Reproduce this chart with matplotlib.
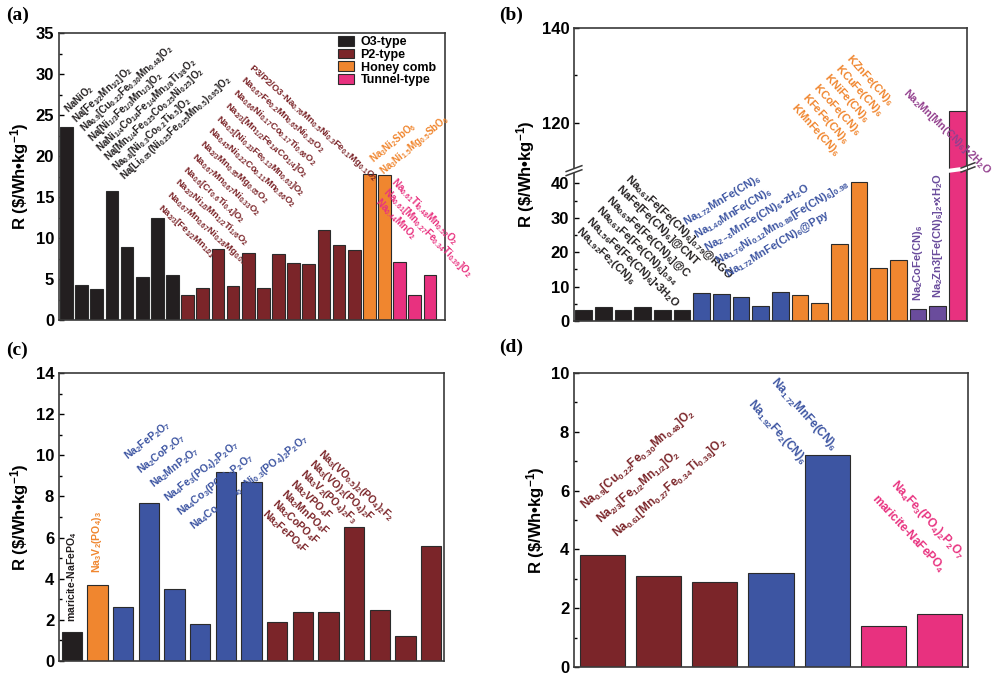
import numpy as np
import matplotlib
matplotlib.use("Agg")
import matplotlib.pyplot as plt
from matplotlib.ticker import MultipleLocator, FixedLocator
from matplotlib.patches import Patch, Polygon

plt.rcParams['font.family'] = ['Liberation Sans', 'DejaVu Sans']
plt.rcParams['font.weight'] = 'bold'
plt.rcParams['mathtext.fontset'] = 'custom'
plt.rcParams['mathtext.rm'] = 'Liberation Sans:bold'
plt.rcParams['mathtext.it'] = 'Liberation Sans:bold'
plt.rcParams['mathtext.bf'] = 'Liberation Sans:bold'
plt.rcParams['mathtext.default'] = 'rm'

# ── colours ──
BLACK = '#231f20'; DKRED = '#7b2529'; ORANGE = '#f0862f'; PINK = '#e8317f'
BLUE = '#3d55a2'; PURPLE = '#6a4c9c'; MAGENTA = '#93408e'; EDGE = '#2b2b2b'

# ── (a) layered oxides ──
a_o3 = [23.5, 4.3, 3.8, 15.8, 8.9, 5.3, 12.5, 5.5]
a_p2 = [3.1, 3.9, 8.7, 4.1, 8.2, 3.9, 8.1, 7.0, 6.8, 11.0, 9.2, 8.5]
a_honey = [17.8, 17.7]
a_tunnel = [7.1, 3.0, 5.5]
a_legend = ['O3-type', 'P2-type', 'Honey comb', 'Tunnel-type']
a_o3_lab = ['NaNiO$_2$',
            'Na[Fe$_{1/2}$Mn$_{1/2}$]O$_2$',
            'Na$_{0.9}$[Cu$_{0.22}$Fe$_{0.30}$Mn$_{0.48}$]O$_2$',
            'Na[Ni$_{1/3}$Fe$_{1/3}$Mn$_{1/3}$]O$_2$',
            'NaNi$_{1/4}$Co$_{1/4}$Fe$_{1/4}$Mn$_{1/8}$Ti$_{1/8}$O$_2$',
            'Na[Mn$_{1/4}$Fe$_{0.25}$Co$_{0.25}$Ni$_{0.25}$]O$_2$',
            'Na$_{0.8}$[Ni$_{0.3}$Co$_{0.2}$Ti$_{0.5}$]O$_2$',
            'Na[Li$_{0.05}$(Ni$_{0.25}$Fe$_{0.25}$Mn$_{0.5}$)$_{0.95}$]O$_2$']
a_p2_lab = ['P3/P2/O3-Na$_{0.76}$Mn$_{0.5}$Ni$_{0.3}$Fe$_{0.1}$Mg$_{0.1}$O$_2$',
            'Na$_{0.67}$Fe$_{0.2}$Mn$_{0.65}$Ni$_{0.15}$O$_2$',
            'Na$_{0.66}$Ni$_{0.17}$Co$_{0.17}$Ti$_{0.66}$O$_2$',
            'Na$_{2/3}$[Mn$_{1/2}$Fe$_{1/4}$Co$_{1/4}$]O$_2$',
            'Na$_{0.5}$[Ni$_{0.23}$Fe$_{0.13}$Mn$_{0.63}$]O$_2$',
            'Na$_{0.45}$Ni$_{0.22}$Co$_{0.11}$Mn$_{0.66}$O$_2$',
            'Na$_{2/3}$Mn$_{0.95}$Mg$_{0.05}$O$_2$',
            'Na$_{0.67}$Mn$_{0.67}$Ni$_{0.33}$O$_2$',
            'Na$_{0.6}$[Cr$_{0.6}$Ti$_{0.4}$]O$_2$',
            'Na$_{2/3}$Ni$_{1/3}$Mn$_{1/2}$Ti$_{1/6}$O$_2$',
            'Na$_{0.67}$Mn$_{0.67}$Ni$_{0.28}$Mg$_{0.05}$O$_2$',
            'Na$_{2/3}$[Fe$_{1/2}$Mn$_{1/2}$]O$_2$']
a_honey_lab = ['Na$_3$Ni$_2$SbO$_6$', 'Na$_3$Ni$_{1.5}$Mg$_{0.5}$SbO$_6$']
a_tunnel_lab = ['Na$_{0.61}$Ti$_{0.48}$Mn$_{0.52}$O$_2$',
                'Na$_{0.61}$[Mn$_{0.27}$Fe$_{0.34}$Ti$_{0.39}$]O$_2$',
                'Na$_{0.44}$MnO$_2$']

# ── (b) Prussian blue analogues ──
b_fefe = [3.1, 4.1, 3.1, 4.1, 3.1, 3.1]
b_mnfe = [8.1, 7.8, 6.9, 4.3, 8.3]
b_kpba = [7.5, 5.3, 22.4, 40.3, 15.3, 17.7]
b_other = [3.6, 4.5]
b_mnmn = [122.5]
b_yticks = [0, 10, 20, 30, 40, 120, 140]
b_fefe_lab = ['Na$_{0.61}$Fe[Fe(CN)$_6$]$_{0.79}$@RGO', 'NaFe[Fe(CN)$_6$]@CNT',
              'Na$_{0.65}$Fe[Fe(CN)$_6$]@C', 'Na$_{0.61}$Fe[Fe(CN)$_6$]$_{0.94}$',
              'Na$_{1.56}$Fe[Fe(CN)$_6$]•3H$_2$O', 'Na$_{1.92}$Fe$_2$(CN)$_6$']
b_mnfe_lab = ['Na$_{1.72}$MnFe(CN)$_6$', 'Na$_{1.40}$MnFe(CN)$_6$',
              'Na$_{2-δ}$MnFe(CN)$_6$•zH$_2$O',
              'Na$_{1.76}$Ni$_{0.12}$Mn$_{0.88}$[Fe(CN)$_6$]$_{0.98}$',
              'Na$_{1.72}$MnFe(CN)$_6$@Ppy']
b_kpba_lab = ['KZnFe(CN)$_6$', 'KCuFe(CN)$_6$', 'KNiFe(CN)$_6$',
              'KCoFe(CN)$_6$', 'KFeFe(CN)$_6$', 'KMnFe(CN)$_6$']
b_other_lab = ['Na$_2$CoFe(CN)$_6$', 'Na$_2$Zn3[Fe(CN)$_6$]$_2$•xH$_2$O']
b_mnmn_lab = 'Na$_2$Mn[Mn(CN)$_6$]•2H$_2$O'

# ── (c) polyanions ──
c_olivine = [1.4]
c_nvp = [3.7]
c_pyro = [2.6, 7.7, 3.5, 1.8, 9.2, 8.7]
c_fluoro = [1.9, 2.4, 2.4, 6.5, 2.5, 1.2, 5.6]
c_pyro_lab = ['Na$_2$FeP$_2$O$_7$', 'Na$_2$CoP$_2$O$_7$', 'Na$_2$MnP$_2$O$_7$',
              'Na$_4$Fe$_3$(PO$_4$)$_2$P$_2$O$_7$', 'Na$_4$Co$_3$(PO$_4$)$_2$P$_2$O$_7$',
              'Na$_4$Co$_{2.4}$Mn$_{0.3}$Ni$_{0.3}$(PO$_4$)$_2$P$_2$O$_7$']
c_fluoro_lab = ['Na$_3$(VO$_{0.5}$)$_2$(PO$_4$)$_2$F$_2$', 'Na$_3$(VO)$_2$(PO$_4$)$_2$F',
                'Na$_3$V$_2$(PO$_4$)$_2$F$_3$', 'Na$_2$VPO$_4$F', 'Na$_2$MnPO$_4$F',
                'Na$_2$CoPO$_4$F', 'Na$_2$FePO$_4$F']

# ── (d) selected ──
d_oxide = [3.8, 3.1, 2.9]
d_pba = [3.2, 7.2]
d_poly = [1.4, 1.8]
d_oxide_lab = ['Na$_{0.9}$[Cu$_{0.22}$Fe$_{0.30}$Mn$_{0.48}$]O$_2$',
               'Na$_{2/3}$[Fe$_{1/2}$Mn$_{1/2}$]O$_2$',
               'Na$_{0.61}$[Mn$_{0.27}$Fe$_{0.34}$Ti$_{0.39}$]O$_2$']
d_pba_lab = ['Na$_{1.72}$MnFe(CN)$_6$', 'Na$_{1.92}$Fe$_2$(CN)$_6$']
d_poly_lab = ['Na$_4$Fe$_3$(PO$_4$)$_2$P$_2$O$_7$', 'maricite-NaFePO$_4$']

YLAB = r'R (\$/Wh•kg$^{-1}$)'


def bars(ax, groups, width):
    x = 0
    for vals, col in groups:
        idx = np.arange(x, x + len(vals))
        ax.bar(idx, vals, width, color=col, edgecolor=EDGE, linewidth=0.8, zorder=2)
        x += len(vals)
    ax.set_xlim(-0.5, x - 0.5)


def style(ax):
    ax.set_xticks([])
    ax.tick_params(axis='y', which='both', direction='in', labelsize=12, width=1)
    ax.tick_params(axis='y', which='major', length=3.5)
    ax.tick_params(axis='y', which='minor', length=2)
    for t in ax.get_yticklabels():
        t.set_fontweight('bold')
    ax.set_ylabel(YLAB, fontsize=12, fontweight='bold', labelpad=3)
    for sp in ax.spines.values():
        sp.set_linewidth(1.2); sp.set_color('#3a3a3a')


def stack(ax, labels, x0, y0, dx, dy, rot, color, size):
    for i, s in enumerate(labels):
        ax.text(x0 + i * dx, y0 + i * dy, s, transform=ax.transAxes, rotation=rot,
                rotation_mode='anchor', ha='left', va='center', color=color,
                fontsize=size, fontweight='bold', clip_on=False, zorder=4)


def vlabel(ax, x, y, s, color, size):
    ax.text(x, y, s, rotation=90, rotation_mode='anchor', ha='left', va='center',
            color=color, fontsize=size, fontweight='bold', zorder=4)


fig = plt.figure(figsize=(10, 6.81), dpi=100)

# ───────── (a) ─────────
ax = fig.add_axes([0.059, 0.530, 0.386, 0.4214])
bars(ax, [(a_o3, BLACK), (a_p2, DKRED), (a_honey, ORANGE), (a_tunnel, PINK)], 0.84)
ax.set_xlim(-0.5, 25.0)
ax.set_ylim(0, 35)
ax.yaxis.set_major_locator(MultipleLocator(5)); ax.yaxis.set_minor_locator(MultipleLocator(2.5))
style(ax)
stack(ax, a_o3_lab, 0.018, 0.728, 0.021, -0.0334, 43, BLACK, 7.0)
stack(ax, a_p2_lab, 0.497, 0.886, -0.0215, -0.0445, -42, DKRED, 6.8)
stack(ax, a_honey_lab, 0.810, 0.556, 0.026, -0.042, 40, ORANGE, 7.0)
stack(ax, a_tunnel_lab, 0.865, 0.488, -0.021, -0.035, -45, PINK, 7.0)
handles = [Patch(facecolor=c, edgecolor=EDGE, linewidth=0.8) for c in (BLACK, DKRED, ORANGE, PINK)]
ax.legend(handles, a_legend, loc='upper left', bbox_to_anchor=(0.723, 0.99), frameon=False,
          fontsize=9, handlelength=1.3, handleheight=0.8, handletextpad=0.5,
          labelspacing=0.05, borderpad=0, borderaxespad=0)

# ───────── (b) broken axis ─────────
ax = fig.add_axes([0.574, 0.5286, 0.393, 0.4302])
seg_v = [-100, 0, 43, 110, 140, 300]
seg_p = [-344, 0, 148, 151, 293, 293 + 160 * 4.73]
ax.set_yscale('function', functions=(lambda y: np.interp(y, seg_v, seg_p),
                                     lambda p: np.interp(p, seg_p, seg_v)))
bars(ax, [(b_fefe, BLACK), (b_mnfe, BLUE), (b_kpba, ORANGE), (b_other, PURPLE), (b_mnmn, PINK)], 0.85)
ax.set_ylim(0, 140)
ax.yaxis.set_major_locator(FixedLocator(b_yticks))
ax.yaxis.set_minor_locator(FixedLocator([5, 15, 25, 35, 110, 130]))
ax.set_yticklabels([str(t) for t in b_yticks])
style(ax)
yb = 149.5 / 293
# white gap + "//" marks on the left spine
ax.add_patch(Polygon([(-0.02, yb - 0.014), (0.02, yb + 0.006), (0.02, yb + 0.020), (-0.02, yb)],
                     closed=True, transform=ax.transAxes, facecolor='white',
                     edgecolor='none', clip_on=False, zorder=5))
for off in (0.0, 0.014):
    ax.plot([-0.02, 0.02], [yb - 0.014 + off, yb + 0.006 + off], transform=ax.transAxes,
            color='#3a3a3a', lw=1.1, clip_on=False, zorder=6)
# gap through the tall bar + marks across the right spine
ax.add_patch(Polygon([(0.945, yb - 0.006), (1.0, yb + 0.004), (1.0, yb + 0.018), (0.945, yb + 0.008)],
                     closed=True, transform=ax.transAxes, facecolor='white',
                     edgecolor='none', clip_on=False, zorder=5))
for off in (0.0, 0.014):
    ax.plot([0.985, 1.02], [yb - 0.002 + off, yb + 0.016 + off], transform=ax.transAxes,
            color='#3a3a3a', lw=1.1, clip_on=False, zorder=6)
stack(ax, b_fefe_lab, 0.135, 0.491, -0.0249, -0.0355, -44, BLACK, 8)
stack(ax, b_mnfe_lab, 0.282, 0.334, 0.0267, -0.0444, 31, BLUE, 8)
stack(ax, b_kpba_lab, 0.697, 0.905, -0.028, -0.034, -48, ORANGE, 8)
for i, s in enumerate(b_other_lab):
    vlabel(ax, 17 + i, b_other[i] + 2.2, s, PURPLE, 8)
stack(ax, [b_mnmn_lab], 0.842, 0.786, 0, 0, -44, MAGENTA, 7.8)

# ───────── (c) ─────────
ax = fig.add_axes([0.059, 0.0294, 0.385, 0.4229])
bars(ax, [(c_olivine, BLACK), (c_nvp, ORANGE), (c_pyro, BLUE), (c_fluoro, DKRED)], 0.8)
ax.set_ylim(0, 14)
ax.yaxis.set_major_locator(MultipleLocator(2)); ax.yaxis.set_minor_locator(MultipleLocator(1))
style(ax)
vlabel(ax, 0, c_olivine[0] + 0.5, 'maricite-NaFePO$_4$', BLACK, 7.6)
vlabel(ax, 1, c_nvp[0] + 0.6, 'Na$_3$V$_2$(PO$_4$)$_3$', ORANGE, 7.6)
stack(ax, c_pyro_lab, 0.174, 0.705, 0.034, -0.048, 38, BLUE, 7.6)
stack(ax, c_fluoro_lab, 0.678, 0.726, -0.0243, -0.0347, -43, DKRED, 7.6)

# ───────── (d) ─────────
ax = fig.add_axes([0.574, 0.0206, 0.394, 0.4317])
bars(ax, [(d_oxide, DKRED), (d_pba, BLUE), (d_poly, PINK)], 0.8)
ax.set_ylim(0, 10)
ax.yaxis.set_major_locator(MultipleLocator(2)); ax.yaxis.set_minor_locator(MultipleLocator(1))
style(ax)
stack(ax, d_oxide_lab, 0.023, 0.544, 0.04, -0.047, 41, DKRED, 8.5)
stack(ax, d_pba_lab, 0.505, 0.976, -0.058, -0.075, -48, BLUE, 8.5)
stack(ax, d_poly_lab, 0.81, 0.629, -0.051, -0.051, -47, PINK, 8.5)

# panel letters
for x, y, s in [(0.006, 0.99, '(a)'), (0.499, 0.99, '(b)'), (0.006, 0.498, '(c)'), (0.499, 0.502, '(d)')]:
    fig.text(x, y, s, fontfamily='Liberation Serif', fontsize=14, fontweight='bold', va='top')

fig.savefig('out.png', dpi=100, facecolor='white')
